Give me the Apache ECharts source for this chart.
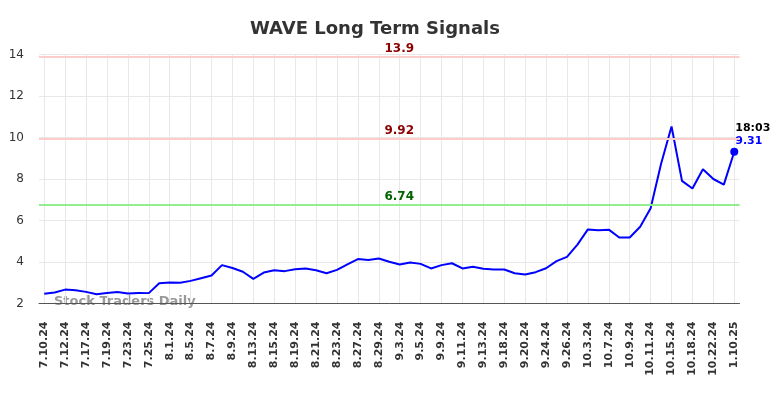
<!DOCTYPE html>
<html>
<head>
<meta charset="utf-8">
<script src="https://cdn.jsdelivr.net/npm/echarts@6/dist/echarts.min.js"></script>
<style>html,body{margin:0;padding:0;background:#fff}#c{width:784px;height:398px}</style>
</head>
<body>
<div id="c"></div>
<script>
const dates = [
  '7.10.24','7.11.24','7.12.24','7.16.24','7.17.24','7.18.24','7.19.24','7.22.24','7.23.24','7.24.24',
  '7.25.24','7.30.24','8.1.24','8.2.24','8.5.24','8.6.24','8.7.24','8.8.24','8.9.24','8.12.24',
  '8.13.24','8.14.24','8.15.24','8.16.24','8.19.24','8.20.24','8.21.24','8.22.24','8.23.24','8.26.24',
  '8.27.24','8.28.24','8.29.24','8.30.24','9.3.24','9.4.24','9.5.24','9.6.24','9.9.24','9.10.24',
  '9.11.24','9.12.24','9.13.24','9.17.24','9.18.24','9.19.24','9.20.24','9.23.24','9.24.24','9.25.24',
  '9.26.24','10.1.24','10.3.24','10.4.24','10.7.24','10.8.24','10.9.24','10.10.24','10.11.24','10.14.24',
  '10.15.24','10.17.24','10.18.24','10.21.24','10.22.24','10.23.24','1.10.25'
];
const prices = [
  2.47,2.53,2.67,2.64,2.56,2.45,2.51,2.55,2.48,2.51,
  2.50,2.98,3.01,3.00,3.09,3.22,3.35,3.85,3.71,3.53,
  3.19,3.49,3.60,3.56,3.65,3.69,3.60,3.46,3.62,3.89,
  4.14,4.10,4.17,4.01,3.88,3.98,3.91,3.69,3.85,3.94,
  3.69,3.77,3.67,3.64,3.64,3.46,3.40,3.51,3.70,4.04,
  4.25,4.84,5.57,5.53,5.56,5.18,5.18,5.70,6.59,8.73,
  10.53,7.91,7.54,8.47,8.00,7.73,9.31
];
const levels = [
  {value: 13.9, line: '#ffcccc', text: '#8b0000'},
  {value: 9.92, line: '#ffcccc', text: '#8b0000'},
  {value: 6.74, line: '#90ee90', text: '#006400'}
];
const yTicks = {min: 2, max: 14, step: 2};
const lastTime = '18:03';

const chart = echarts.init(document.getElementById('c'));
const lastIdx = prices.length - 1;
chart.setOption({
  animation: false,
  title: {
    text: 'WAVE Long Term Signals',
    left: 245, top: 15,
    textStyle: {fontFamily: 'DejaVu Sans', fontWeight: 'bold', fontSize: 18, color: '#333'}
  },
  grid: {left: 39, right: 44.5, top: 54.5, bottom: 94.5},
  xAxis: {
    type: 'category',
    data: dates,
    boundaryGap: true,
    axisLine: {lineStyle: {color: '#555', width: 1}},
    axisTick: {show: false},
    axisLabel: {interval: 1, rotate: 90, margin: 18, fontFamily: 'DejaVu Sans', fontWeight: 'bold', fontSize: 11, color: '#333'},
    splitLine: {show: true, interval: 1, alignWithLabel: true, lineStyle: {color: '#e8e8e8', width: 1}}
  },
  yAxis: {
    type: 'value',
    min: yTicks.min, max: yTicks.max, interval: yTicks.step,
    axisLine: {show: false},
    axisTick: {show: false},
    axisLabel: {margin: 15, fontFamily: 'DejaVu Sans', fontSize: 12, color: '#333'},
    splitLine: {lineStyle: {color: '#e8e8e8', width: 1}}
  },
  graphic: [{
    type: 'text', left: 54, top: 295,
    style: {text: 'Stock Traders Daily', font: 'bold 13px "DejaVu Sans"', fill: '#999'}
  }],
  series: [{
    type: 'line',
    data: prices.map((v, i) => i === lastIdx ? {
      value: v, symbol: 'circle', symbolSize: 8,
      label: {show: true, position: 'right', offset: [-8, -17], formatter: '{t|' + lastTime + '}\n{v|{c}}',
        rich: {t: {fontFamily: 'DejaVu Sans', fontWeight: 'bold', fontSize: 11, color: '#000', lineHeight: 13},
               v: {fontFamily: 'DejaVu Sans', fontWeight: 'bold', fontSize: 11, color: '#0000ff', lineHeight: 13}}}
    } : v),
    showSymbol: true,
    symbol: 'none',
    itemStyle: {color: '#0000ff'},
    lineStyle: {color: '#0000ff', width: 2},
    markLine: {
      silent: true, symbol: 'none',
      data: levels.map(l => ({
        yAxis: l.value,
        lineStyle: {color: l.line, width: 2, type: 'solid'},
        label: {show: true, position: 'middle', offset: [10, 0], formatter: String(l.value),
          fontFamily: 'DejaVu Sans', fontWeight: 'bold', fontSize: 12, color: l.text, distance: 2}
      }))
    }
  }]
});
</script>
</body>
</html>
